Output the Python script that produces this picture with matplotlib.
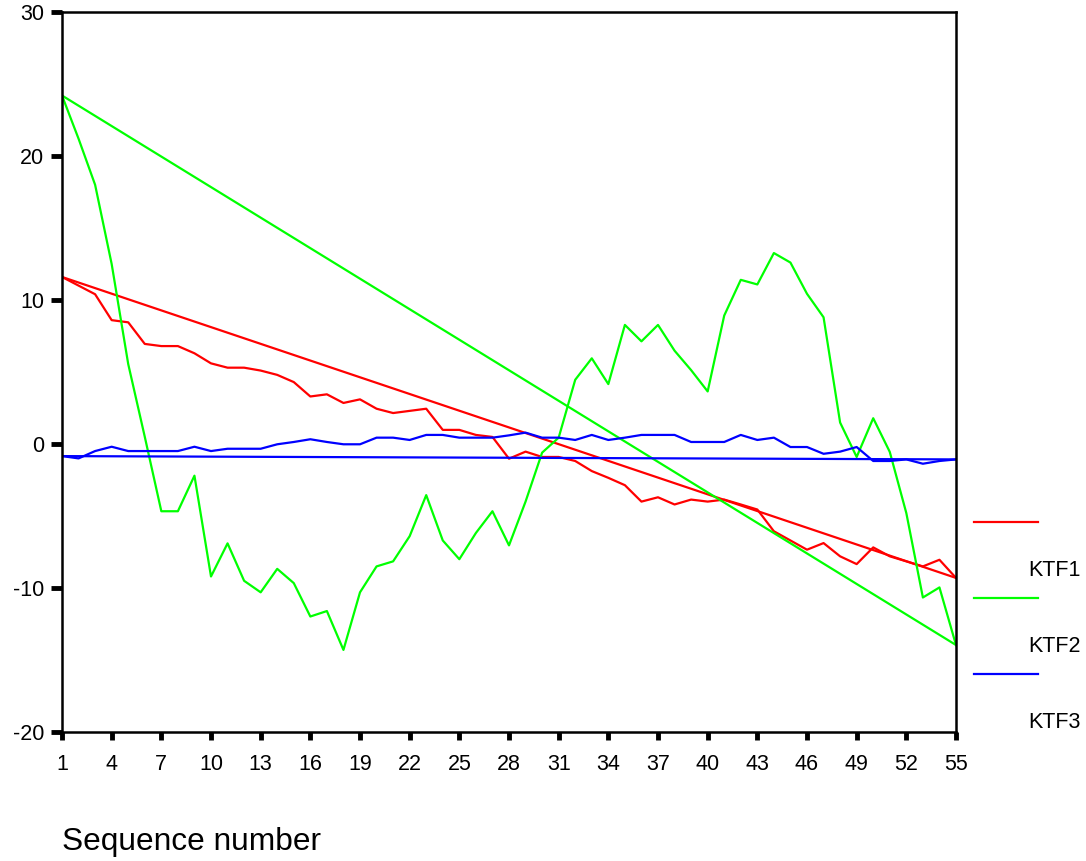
import matplotlib.pyplot as plt
from matplotlib.lines import Line2D

plt.rcParams['font.family'] = ['Liberation Sans', 'DejaVu Sans']
plt.rcParams['axes.unicode_minus'] = False

seq = list(range(1, 56))

ktf1 = [11.6, 11.0, 10.4, 8.6, 8.45, 6.95, 6.8, 6.8, 6.3, 5.6,
        5.3, 5.3, 5.1, 4.8, 4.3, 3.3, 3.45, 2.85, 3.1, 2.45,
        2.15, 2.3, 2.45, 0.98, 0.98, 0.63, 0.49, -1.02, -0.53, -0.9,
        -0.9, -1.18, -1.88, -2.35, -2.86, -4.0, -3.7, -4.2, -3.86, -4.0,
        -3.86, -4.2, -4.55, -6.06, -6.7, -7.34, -6.88, -7.8, -8.34, -7.18,
        -7.8, -8.15, -8.5, -8.04, -9.3]

ktf2 = [24.2, 21.2, 18.0, 12.5, 5.55, 0.5, -4.67, -4.67, -2.2, -9.2,
        -6.9, -9.5, -10.3, -8.67, -9.66, -11.98, -11.6, -14.3, -10.3, -8.5,
        -8.15, -6.4, -3.55, -6.7, -8.0, -6.18, -4.67, -7.04, -4.0, -0.6,
        0.44, 4.46, 5.95, 4.16, 8.27, 7.13, 8.27, 6.48, 5.13, 3.65,
        8.92, 11.4, 11.08, 13.26, 12.6, 10.43, 8.8, 1.49, -0.9, 1.79,
        -0.55, -4.8, -10.66, -9.96, -13.96]

ktf3 = [-0.84, -1.0, -0.49, -0.19, -0.49, -0.49, -0.49, -0.49, -0.19, -0.49,
        -0.33, -0.33, -0.33, -0.02, 0.14, 0.33, 0.14, -0.02, -0.02, 0.44,
        0.44, 0.28, 0.63, 0.63, 0.44, 0.44, 0.44, 0.6, 0.79, 0.44,
        0.44, 0.28, 0.63, 0.28, 0.44, 0.63, 0.63, 0.63, 0.14, 0.14,
        0.14, 0.63, 0.28, 0.44, -0.21, -0.21, -0.68, -0.53, -0.21, -1.18,
        -1.18, -1.07, -1.37, -1.18, -1.07]

series = [("KTF1", ktf1, "#ff0000"),
          ("KTF2", ktf2, "#00ff00"),
          ("KTF3", ktf3, "#0000ff")]

fig = plt.figure(figsize=(10.86, 8.61), dpi=100)
ax = fig.add_axes([62 / 1086, 1 - 732 / 861, (956 - 62) / 1086, (732 - 12) / 861])

for name, vals, col in series:
    ax.plot(seq, vals, color=col, lw=1.6)
    # straight line from the first to the last value
    ax.plot([seq[0], seq[-1]], [vals[0], vals[-1]], color=col, lw=1.6)

ax.set_xlim(1, 55)
ax.set_ylim(-20, 30)
ax.set_xticks(range(1, 56, 3))
ax.set_yticks([-20, -10, 0, 10, 20, 30])
ax.tick_params(axis='x', direction='out', length=6, width=3.5, pad=10, labelsize=15.5)
ax.tick_params(axis='y', direction='out', length=8, width=3.5, pad=5, labelsize=15.5)
for s in ax.spines.values():
    s.set_linewidth(1.8)

fig.text(62 / 1086, 1 - 842 / 861, "Sequence number", fontsize=22.8, va='center', ha='left')

# legend drawn beside the plot
leg_y = [522, 598, 674]
for (name, vals, col), ly in zip(series, leg_y):
    fig.add_artist(Line2D([974 / 1086, 1038 / 1086], [1 - ly / 861, 1 - ly / 861],
                          color=col, lw=1.6, transform=fig.transFigure))
    fig.text(1028 / 1086, 1 - (ly + 49) / 861, name, fontsize=15.5, va='center', ha='left')

fig.savefig("out.png", dpi=100)
